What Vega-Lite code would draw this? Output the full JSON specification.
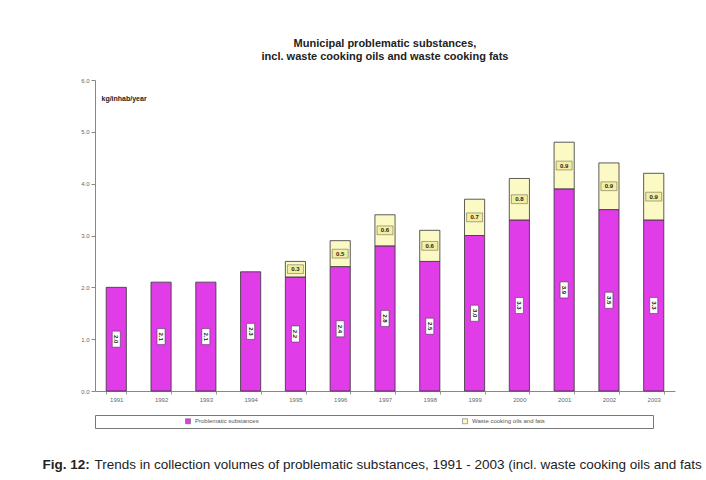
{
  "$schema": "https://vega.github.io/schema/vega-lite/v6.json",
  "width": 580,
  "height": 311,
  "autosize": {"type": "none"},
  "padding": {"left": 95, "top": 80, "right": 31, "bottom": 89},
  "background": "white",
  "title": {
    "text": ["Municipal problematic substances,", "incl. waste cooking oils and waste cooking fats"],
    "fontSize": 11,
    "font": "Liberation Sans",
    "fontWeight": "bold",
    "color": "#222",
    "anchor": "middle",
    "frame": "group",
    "offset": 15,
    "lineHeight": 13
  },
  "data": {
    "values": [
      {"year": "1991", "type": "Problematic substances", "value": 2.0},
      {"year": "1992", "type": "Problematic substances", "value": 2.1},
      {"year": "1993", "type": "Problematic substances", "value": 2.1},
      {"year": "1994", "type": "Problematic substances", "value": 2.3},
      {"year": "1995", "type": "Problematic substances", "value": 2.2},
      {"year": "1996", "type": "Problematic substances", "value": 2.4},
      {"year": "1997", "type": "Problematic substances", "value": 2.8},
      {"year": "1998", "type": "Problematic substances", "value": 2.5},
      {"year": "1999", "type": "Problematic substances", "value": 3.0},
      {"year": "2000", "type": "Problematic substances", "value": 3.3},
      {"year": "2001", "type": "Problematic substances", "value": 3.9},
      {"year": "2002", "type": "Problematic substances", "value": 3.5},
      {"year": "2003", "type": "Problematic substances", "value": 3.3},
      {"year": "1995", "type": "Waste cooking oils and fats", "value": 0.3},
      {"year": "1996", "type": "Waste cooking oils and fats", "value": 0.5},
      {"year": "1997", "type": "Waste cooking oils and fats", "value": 0.6},
      {"year": "1998", "type": "Waste cooking oils and fats", "value": 0.6},
      {"year": "1999", "type": "Waste cooking oils and fats", "value": 0.7},
      {"year": "2000", "type": "Waste cooking oils and fats", "value": 0.8},
      {"year": "2001", "type": "Waste cooking oils and fats", "value": 0.9},
      {"year": "2002", "type": "Waste cooking oils and fats", "value": 0.9},
      {"year": "2003", "type": "Waste cooking oils and fats", "value": 0.9}
    ]
  },
  "transform": [
    {"stack": "value", "groupby": ["year"], "sort": [{"field": "type", "order": "ascending"}], "as": ["v0", "v1"]},
    {"calculate": "(datum.v0 + datum.v1) / 2", "as": "mid"}
  ],
  "resolve": {"axis": {"x": "independent"}},
  "layer": [
    {
      "mark": {"type": "bar", "stroke": "#333", "strokeWidth": 0.8},
      "encoding": {
        "x": {
          "field": "year",
          "type": "ordinal",
          "scale": {"paddingInner": 0.55, "paddingOuter": 0.25},
          "axis": {
            "labelAngle": 0,
            "labelFontSize": 6,
            "labelColor": "#666",
            "labelFont": "Liberation Sans",
            "labelPadding": 2,
            "tickBand": "extent",
            "tickSize": 3,
            "tickColor": "#999",
            "domainColor": "#888",
            "title": "Trends in collection volumes of problematic substances, 1991 - 2003 (incl. waste cooking oils and fats",
            "titleFont": "Liberation Sans",
            "titleFontSize": 13.5,
            "titleFontWeight": "normal",
            "titleColor": "#222",
            "titleAlign": "left",
            "titleBaseline": "middle",
            "titleAnchor": "start",
            "titleX": -1,
            "titleY": 73,
            "titleLimit": 1000
          }
        },
        "y": {
          "field": "v0",
          "type": "quantitative",
          "scale": {"domain": [0, 6]},
          "axis": {
            "values": [0, 1, 2, 3, 4, 5, 6],
            "format": ".1f",
            "grid": false,
            "labelFontSize": 6,
            "labelColor": "#666",
            "labelFont": "Liberation Sans",
            "tickSize": 4,
            "tickColor": "#888",
            "domainColor": "#888",
            "title": "kg/inhab/year",
            "titleFont": "Liberation Sans",
            "titleFontSize": 7,
            "titleFontWeight": "bold",
            "titleColor": "#222",
            "titleAngle": 0,
            "titleAlign": "left",
            "titleBaseline": "middle",
            "titleX": 6,
            "titleY": 18
          }
        },
        "y2": {"field": "v1"},
        "fill": {
          "field": "type",
          "type": "nominal",
          "scale": {"domain": ["Problematic substances", "Waste cooking oils and fats"], "range": ["#e03ce8", "#fcfac4"]},
          "legend": {
            "orient": "none",
            "legendX": 0,
            "legendY": 335,
            "direction": "horizontal",
            "columns": 2,
            "columnPadding": 116,
            "padding": 3,
            "strokeColor": "#777",
            "title": "\u00a0",
            "titleOrient": "right",
            "titlePadding": 105,
            "titleFontSize": 6,
            "symbolOffset": 87,
            "labelFontSize": 6,
            "labelFont": "Liberation Sans",
            "labelColor": "#555",
            "labelLimit": 400,
            "symbolType": "square",
            "symbolSize": 25,
            "symbolStrokeColor": "#555",
            "symbolStrokeWidth": 0.5
          }
        }
      }
    },
    {
      "transform": [{"filter": "datum.type == 'Problematic substances'"}],
      "mark": {"type": "point", "shape": "M-0.5,-1H0.5V1H-0.5Z", "size": 256, "filled": true, "fill": "white", "stroke": "#333", "strokeWidth": 0.5, "opacity": 1},
      "encoding": {
        "x": {"field": "year", "type": "ordinal", "axis": null},
        "y": {"field": "mid", "type": "quantitative"}
      }
    },
    {
      "transform": [{"filter": "datum.type == 'Problematic substances'"}],
      "mark": {"type": "text", "angle": 90, "fontSize": 6, "fontWeight": "bold", "font": "Liberation Sans", "color": "#222", "baseline": "middle", "align": "center"},
      "encoding": {
        "x": {"field": "year", "type": "ordinal", "axis": null},
        "y": {"field": "mid", "type": "quantitative"},
        "text": {"field": "value", "type": "quantitative", "format": ".1f"}
      }
    },
    {
      "transform": [{"filter": "datum.type == 'Waste cooking oils and fats'"}],
      "mark": {"type": "point", "shape": "M-1,-0.55H1V0.55H-1Z", "size": 256, "filled": true, "fill": "#f3eea0", "stroke": "#555", "strokeWidth": 0.5, "opacity": 1},
      "encoding": {
        "x": {"field": "year", "type": "ordinal", "axis": null},
        "y": {"field": "mid", "type": "quantitative"}
      }
    },
    {
      "transform": [{"filter": "datum.type == 'Waste cooking oils and fats'"}],
      "mark": {"type": "text", "fontSize": 6, "fontWeight": "bold", "font": "Liberation Sans", "color": "#222", "baseline": "middle", "align": "center"},
      "encoding": {
        "x": {
          "field": "year",
          "type": "ordinal",
          "axis": {
            "orient": "top",
            "domain": false,
            "ticks": false,
            "labels": false,
            "title": "Fig. 12:",
            "titleFont": "Liberation Sans",
            "titleFontSize": 13.5,
            "titleFontWeight": "bold",
            "titleColor": "#222",
            "titleAlign": "left",
            "titleBaseline": "middle",
            "titleAnchor": "start",
            "titleAngle": 0,
            "titleX": -53,
            "titleY": 384
          }
        },
        "y": {"field": "mid", "type": "quantitative"},
        "text": {"field": "value", "type": "quantitative", "format": ".1f"}
      }
    }
  ],
  "config": {"view": {"stroke": null}}
}
